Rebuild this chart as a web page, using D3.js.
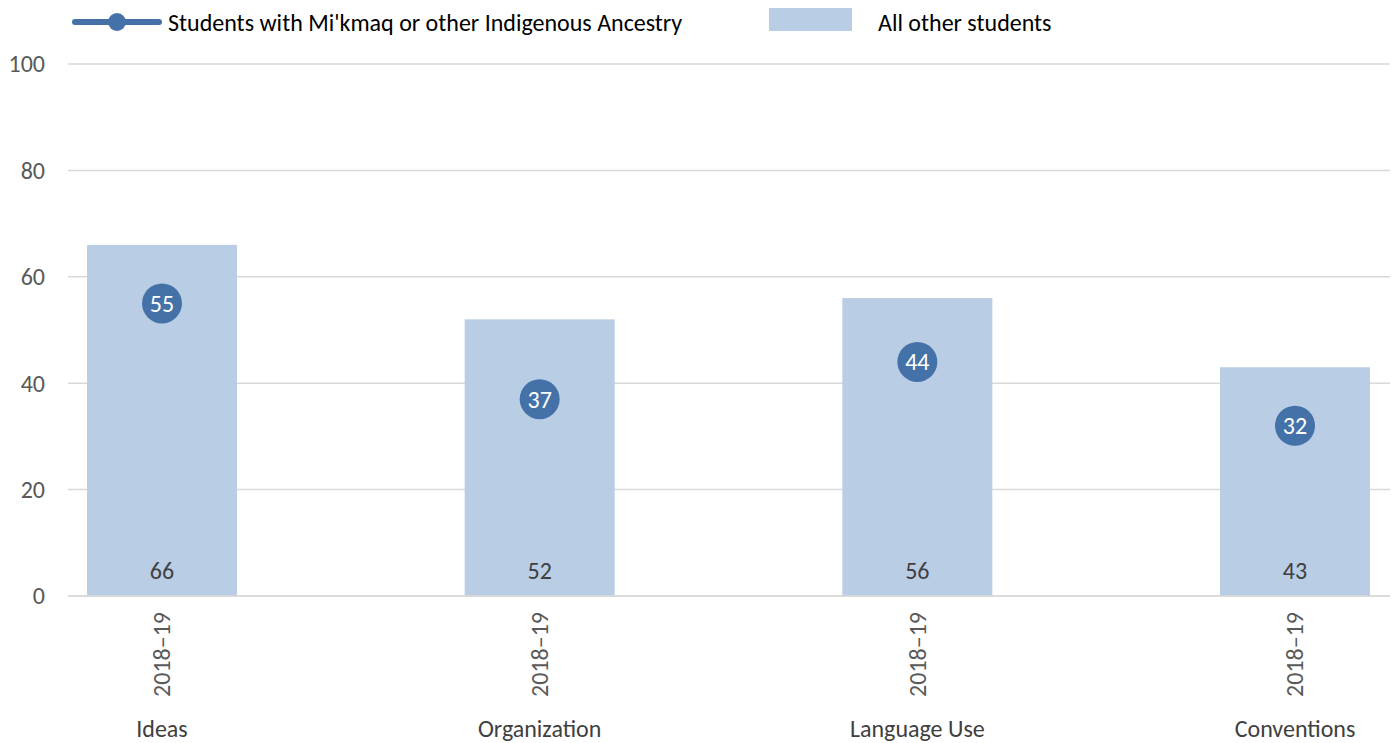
<!DOCTYPE html>
<html>
<head>
<meta charset="utf-8">
<script src="https://cdn.jsdelivr.net/npm/d3@7"></script>
<style>
  body { margin: 0; background: #fff; }
  text { font-family: Carlito, Calibri, Lato, sans-serif; }
</style>
</head>
<body>
<div id="chart"></div>
<script>
// Data
const categories = ['Ideas', 'Organization', 'Language Use', 'Conventions']
const periods = ['2018–19', '2018–19', '2018–19', '2018–19']
const otherStudents = [66, 52, 56, 43]
const indigenous = [55, 37, 44, 32]
const yTicks = [0, 20, 40, 60, 80, 100]

const width = 1397,
  height = 743,
  fontSize = 24

const barColor = '#b9cde5',
  dotColor = '#4472a8',
  gridColor = '#d9d9d9',
  textColor = '#595959'

let svg = d3.select('#chart')
  .append('svg')
  .attr('width', width)
  .attr('height', height)

const yScale = d3.scaleLinear()
  .domain([0, 100])
  .range([596, 64])

const xScale = d3.scalePoint()
  .domain(categories)
  .range([162, 1295])

const barWidth = 150

// gridlines
svg.append('g')
  .selectAll('line')
  .data(yTicks)
  .enter()
  .append('line')
  .attr('x1', 68)
  .attr('x2', 1390)
  .attr('y1', d => yScale(d))
  .attr('y2', d => yScale(d))
  .attr('stroke', gridColor)
  .attr('stroke-width', 1.5)

// y axis labels
svg.append('g')
  .selectAll('text')
  .data(yTicks)
  .enter()
  .append('text')
  .attr('x', 45)
  .attr('y', d => yScale(d))
  .attr('dy', '0.35em')
  .attr('text-anchor', 'end')
  .attr('font-size', fontSize)
  .attr('fill', textColor)
  .text(d => d)

// bars
svg.append('g')
  .selectAll('rect')
  .data(otherStudents)
  .enter()
  .append('rect')
  .attr('x', (d, i) => xScale(categories[i]) - barWidth / 2)
  .attr('y', d => yScale(d))
  .attr('width', barWidth)
  .attr('height', d => yScale(0) - yScale(d))
  .attr('fill', barColor)

// bar labels
svg.append('g')
  .selectAll('text')
  .data(otherStudents)
  .enter()
  .append('text')
  .attr('x', (d, i) => xScale(categories[i]))
  .attr('y', yScale(0) - 25)
  .attr('dy', '0.35em')
  .attr('text-anchor', 'middle')
  .attr('font-size', fontSize)
  .attr('fill', '#404040')
  .text(d => d)

// redraw baseline over bars
svg.append('line')
  .attr('x1', 68)
  .attr('x2', 1390)
  .attr('y1', yScale(0))
  .attr('y2', yScale(0))
  .attr('stroke', gridColor)
  .attr('stroke-width', 1.5)

// dots
let dots = svg.append('g')
  .selectAll('g')
  .data(indigenous)
  .enter()
  .append('g')
  .attr('transform', (d, i) => `translate(${xScale(categories[i])},${yScale(d)})`)

dots.append('circle')
  .attr('r', 20)
  .attr('fill', dotColor)

dots.append('text')
  .attr('dy', '0.35em')
  .attr('text-anchor', 'middle')
  .attr('font-size', fontSize)
  .attr('fill', '#fff')
  .text(d => d)

// x axis: rotated period labels + category names
svg.append('g')
  .selectAll('text')
  .data(periods)
  .enter()
  .append('text')
  .attr('transform', (d, i) => `translate(${xScale(categories[i])},612) rotate(-90)`)
  .attr('dy', '0.35em')
  .attr('text-anchor', 'end')
  .attr('font-size', fontSize)
  .attr('fill', textColor)
  .text(d => d)

svg.append('g')
  .selectAll('text')
  .data(categories)
  .enter()
  .append('text')
  .attr('x', d => xScale(d))
  .attr('y', 729)
  .attr('dy', '0.35em')
  .attr('text-anchor', 'middle')
  .attr('font-size', fontSize)
  .attr('fill', '#404040')
  .text(d => d)

// legend
let legend = svg.append('g')
legend.append('line')
  .attr('x1', 75).attr('x2', 159)
  .attr('y1', 22).attr('y2', 22)
  .attr('stroke', dotColor)
  .attr('stroke-width', 6)
  .attr('stroke-linecap', 'round')
legend.append('circle')
  .attr('cx', 117).attr('cy', 22)
  .attr('r', 9)
  .attr('fill', dotColor)
legend.append('text')
  .attr('x', 168).attr('y', 23)
  .attr('dy', '0.35em')
  .attr('font-size', fontSize)
  .attr('fill', '#000')
  .text('Students with Mi\'kmaq or other Indigenous Ancestry')

legend.append('rect')
  .attr('x', 769).attr('y', 8)
  .attr('width', 83).attr('height', 23)
  .attr('fill', barColor)
legend.append('text')
  .attr('x', 878).attr('y', 23)
  .attr('dy', '0.35em')
  .attr('font-size', fontSize)
  .attr('fill', '#000')
  .text('All other students')
</script>
</body>
</html>
